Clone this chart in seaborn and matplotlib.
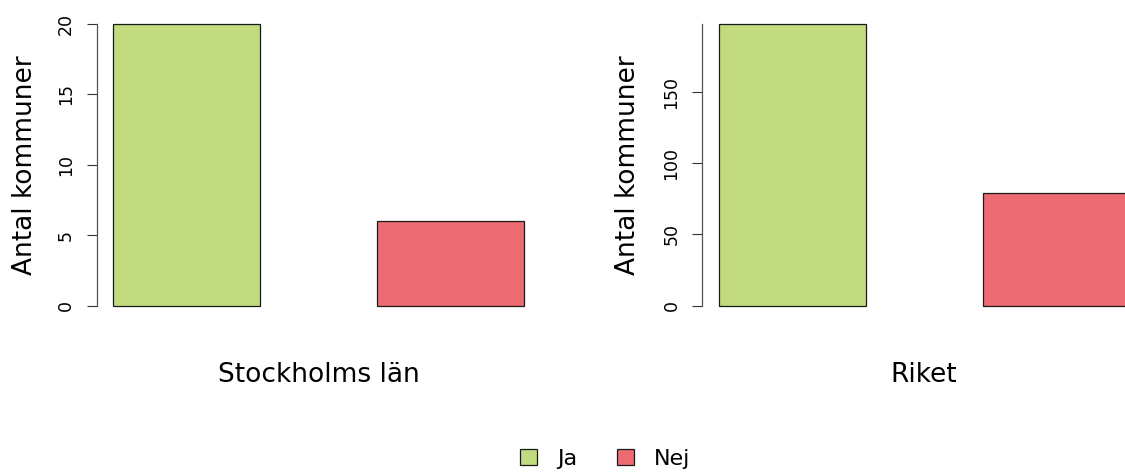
import matplotlib
matplotlib.use("Agg")
import matplotlib.pyplot as plt
from matplotlib.patches import Patch
from matplotlib import font_manager
import seaborn as sns
import pandas as pd

# ---- data ----
answers = ["Ja", "Nej"]
stockholm_values = [20, 6]
riket_values = [198, 79]
panel_titles = ["Stockholms län", "Riket"]
stockholm_ticks = [0, 5, 10, 15, 20]
riket_ticks = [0, 50, 100, 150]
ylabel_text = "Antal kommuner"
colors = ["#C2DB7E", "#EC6A72"]

sns.set_theme(style="white")
plt.rcParams["font.family"] = ["DejaVu Sans"]
plt.rcParams["text.color"] = "black"
plt.rcParams["axes.labelcolor"] = "black"
plt.rcParams["ytick.color"] = "black"

installed = {f.name for f in font_manager.fontManager.ttflist}
tick_family = ["Liberation Sans Narrow"] if "Liberation Sans Narrow" in installed else ["DejaVu Sans"]

W, H = 1125, 473
fig = plt.figure(figsize=(W / 100, H / 100), dpi=100)

def px_axes(left, right, top, bottom):
    return fig.add_axes([left / W, 1 - bottom / H, (right - left) / W, (bottom - top) / H])

panels = [
    dict(values=stockholm_values, ticks=stockholm_ticks, title=panel_titles[0],
         box=(96.9, 540.7, 23.7, 305.7), xlab=318.5, ylab=25),
    dict(values=riket_values, ticks=riket_ticks, title=panel_titles[1],
         box=(702.2, 1146.4, 23.7, 305.7), xlab=924, ylab=628),
]

w = 0.5556
for p in panels:
    ax = px_axes(*p["box"])
    df = pd.DataFrame({"svar": answers, "antal": p["values"]})
    sns.barplot(data=df, x="svar", y="antal", hue="svar", palette=colors,
                width=w, edgecolor="#1a1a1a", linewidth=0.9, legend=False,
                ax=ax, saturation=1)
    for patch in ax.patches:
        patch.set_clip_on(False)
    ymax = max(p["values"])
    ax.set_ylim(0, ymax)
    ext = 0.04 * (1 + w)
    ax.set_xlim(-w / 2 - ext, 1 + w / 2 + ext)
    ax.set_yticks(p["ticks"])
    ax.set_yticklabels([str(t) for t in p["ticks"]], rotation=90, va="center",
                       fontsize=12.5, family=tick_family, color="black")
    ax.tick_params(axis="y", length=7.2, width=0.8, color="#333333", pad=8.5, left=True)
    ax.tick_params(axis="x", bottom=False, labelbottom=False)
    for s in ["top", "right", "bottom"]:
        ax.spines[s].set_visible(False)
    ax.spines["left"].set_bounds(0, ymax)
    ax.spines["left"].set_color("#555555")
    ax.spines["left"].set_linewidth(0.9)
    ax.set_xlabel("")
    ax.set_ylabel("")
    ax.patch.set_alpha(0)
    fig.text(p["xlab"] / W, 1 - 375 / H, p["title"], ha="center", va="center",
             fontsize=19, color="black")
    fig.text(p["ylab"] / W, 1 - 164.7 / H, ylabel_text, ha="center", va="center",
             rotation=90, fontsize=19, color="black")

handles = [Patch(facecolor=c, edgecolor="#1a1a1a", linewidth=0.9) for c in colors]
leg = fig.legend(handles, answers, loc="center", bbox_to_anchor=(605 / W, 1 - 459 / H),
                 ncol=2, frameon=False, fontsize=16, handlelength=0.75, handleheight=0.7,
                 handletextpad=0.9, columnspacing=1.8)
for t in leg.get_texts():
    t.set_color("black")

fig.savefig("out.png", dpi=100)
